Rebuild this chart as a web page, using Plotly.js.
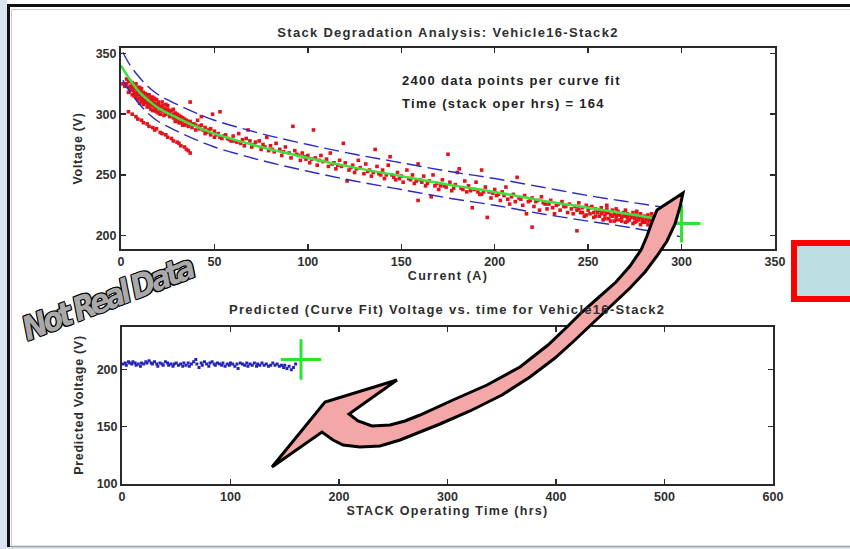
<!DOCTYPE html>
<html>
<head>
<meta charset="utf-8">
<script src="https://cdn.plot.ly/plotly-3.0.1.min.js"></script>
<style>
html,body{margin:0;padding:0;background:#fff;}
#chart{width:850px;height:549px;}
.gtitle, .annotation-text, .xtitle, .x2title { letter-spacing: 1.3px; }
.ytitle, .y2title { letter-spacing: 0.7px; }
.annotation[data-index="3"] .annotation-text { letter-spacing: -4px !important; }
</style>
</head>
<body>
<div id="chart"></div>
<script>
// ---------------- DATA ----------------
const mainTitle = 'Stack Degradation Analysis: Vehicle16-Stack2';
const subTitle = 'Predicted (Curve Fit) Voltage vs. time for Vehicle16-Stack2';
const noteLine1 = '2400 data points per curve fit';
const noteLine2 = 'Time (stack oper hrs) = 164';
const watermark = 'Not Real Data';

const currentTicks = [0, 50, 100, 150, 200, 250, 300, 350];
const voltageTicks = [200, 250, 300, 350];
const timeTicks = [0, 100, 200, 300, 400, 500, 600];
const predTicks = [100, 150, 200];

// curve fit (green)
const fitCurrent = [0, 2, 5, 10, 15, 20, 30, 40, 50, 75, 100, 125, 150, 175, 200, 225, 250, 275, 290, 300];
const fitVoltage = [340, 335, 328, 318, 311, 305, 297, 290, 284, 273, 264, 256, 249, 242, 236, 229, 223, 217, 213, 210];
// confidence bands (blue dashed)
const upperCurrent = [1, 5, 10, 15, 20, 30, 40, 50, 75, 100, 125, 150, 175, 200, 225, 250, 275, 300];
const upperVoltage = [351, 340, 330, 322, 316, 308, 301, 295, 284, 275, 267, 260, 253, 247, 240, 233, 227, 221];
const lowerCurrent = [1, 5, 10, 15, 20, 30, 40, 50, 75, 100, 125, 150, 175, 200, 225, 250, 275, 300];
const lowerVoltage = [328, 318, 308, 300, 294, 286, 279, 273, 262, 253, 245, 238, 231, 225, 218, 212, 206, 199];

// measured points (red), [current, voltage]
const rawEarly = [[1,325],[2,323],[3,325],[4,322],[5,327],[6,320],[6,316],[7,324],[7,318],[8,321],[8,314],[9,319],[9,312],[10,322],[10,316],[10,309],[11,318],[11,311],[12,315],[12,308],[13,317],[13,310],[14,313],[14,306],[15,316],[15,309],[16,311],[16,304],[17,314],[17,307],[18,309],[18,303],[19,312],[19,305],[20,308],[20,301],[21,306],[22,310],[22,303],[23,305],[24,300],[25,307],[25,301],[26,298],[27,303],[28,297],[29,301],[30,295],[31,299],[32,293],[33,297],[34,291],[35,295],[36,290],[37,294],[38,289],[39,292],[40,287],[41,295],[42,288],[43,291],[45,289],[45,284],[47,287],[48,283],[50,286],[50,281],[52,284],[54,280],[37,310],[43,298],[49,300],[53,302],[5,323],[6,326],[7,321],[8,325],[9,316],[11,321],[12,312],[13,314],[14,309],[16,314],[17,310],[18,306],[19,308],[21,303],[23,302],[24,304],[26,301],[28,300],[29,297],[31,296],[33,294],[35,292]];
const rawEarlyDense = [[3,329],[4,327],[4,318],[5,320],[6,323],[7,315],[8,317],[9,322],[10,313],[10,319],[11,314],[12,318],[12,310],[13,312],[14,316],[15,306],[15,312],[16,308],[17,303],[17,311],[18,313],[19,302],[20,306],[20,310],[21,300],[22,307],[23,299],[24,308],[25,304],[26,303],[27,299],[28,304],[29,294],[30,300],[31,293],[32,298],[33,291],[34,296],[36,294],[38,292],[40,291],[42,290],[44,287],[46,285],[48,288],[51,283],[53,281],[55,282],[57,280],[59,278]];
const rawLowBranch = [[4,302],[6,300],[8,298],[9,296],[11,295],[12,293],[14,292],[15,290],[17,289],[18,287],[19,288],[21,285],[22,284],[24,283],[25,281],[27,280],[28,278],[30,277],[31,276],[32,274],[34,273],[35,271],[36,270],[37,268]];
const rawMid = [[56,283],[58,279],[60,282],[62,277],[63,284],[65,279],[66,274],[68,287],[69,278],[70,273],[72,277],[74,278],[75,271],[76,275],[78,281],[79,270],[80,274],[82,269],[83,276],[85,271],[86,266],[88,273],[90,268],[91,264],[92,290],[93,270],[95,266],[96,262],[97,268],[99,263],[100,266],[101,260],[103,287],[104,264],[105,258],[107,266],[108,261],[110,263],[111,257],[112,268],[114,260],[115,255],[117,262],[118,257],[119,276],[120,260],[121,245],[122,254],[124,258],[125,252],[127,262],[128,256],[130,251],[131,259],[133,254],[134,249],[136,271],[137,257],[138,251],[140,254],[141,247],[143,258],[144,265],[145,250],[147,246],[148,252],[150,249],[151,244],[153,254],[154,247],[156,250],[157,243],[159,259],[159,229],[160,246],[162,249],[163,241],[165,245],[166,232],[167,250],[169,243],[170,238],[172,246],[173,241],[175,267],[176,244],[177,237],[179,242],[180,252],[181,255],[182,239],[184,245],[185,236],[186,241],[188,223],[189,238],[190,244],[192,234],[193,254],[193,234],[195,240],[196,215],[197,236],[198,231],[200,238],[201,233],[203,229],[204,236],[206,240],[207,230],[208,226],[210,234],[211,228],[212,248],[213,231],[215,225],[216,233],[217,218],[218,228],[220,231],[220,207],[221,224],[223,229],[224,221],[225,232],[227,226],[228,222],[230,229],[231,223],[232,218],[234,226],[235,221],[236,228],[238,224],[239,219]];
const rawMidOnFit = [[60,278],[64,276],[67,280],[71,275],[77,273],[81,271],[87,269],[94,267],[98,265],[102,263],[106,262],[113,259],[116,258],[123,256],[126,255],[132,253],[135,252],[139,250],[142,250],[146,248],[149,247],[155,246],[158,245],[161,244],[164,243],[168,241],[171,241],[174,240],[178,239],[183,238],[187,237],[191,236],[194,236],[199,235],[202,234],[205,233],[209,232],[214,230],[219,229],[222,228],[226,227],[229,226],[233,225],[237,224]];
const rawHigh = [[240,226],[241,222],[242,218],[243,224],[244,204],[244,221],[245,227],[246,219],[247,223],[248,216],[249,225],[250,221],[251,218],[252,224],[253,215],[254,222],[255,219],[256,216],[257,223],[258,213],[258,220],[259,217],[260,222],[261,214],[261,219],[262,217],[263,221],[264,212],[264,218],[265,216],[266,220],[267,213],[267,217],[268,215],[269,219],[270,211],[270,216],[271,218],[272,213],[272,217],[273,215],[274,219],[274,210],[275,214],[276,217],[276,212],[277,215],[278,218],[278,209],[279,213],[280,216],[280,211],[281,214],[282,217],[282,209],[283,212],[284,215],[285,210],[285,213],[286,208],[287,212],[288,210],[289,213],[290,209],[291,211]];
const rawHighDense = [[245,222],[247,219],[249,217],[251,223],[253,219],[254,216],[256,221],[257,218],[259,214],[260,219],[262,212],[263,216],[265,213],[266,217],[268,212],[269,216],[271,212],[271,215],[273,217],[275,211],[275,216],[277,213],[278,215],[279,211],[281,212],[283,214],[284,210],[286,211],[287,214],[288,208],[289,211],[290,212],[292,210],[293,208],[260,225],[265,222],[270,221],[276,220],[284,218],[288,216]];

const currentMarkI = [300];
const currentMarkV = [210];

// predicted voltage vs time (blue), [hours, volts]
const predicted = [[1,205],[3,206],[4,204],[6,207],[7,206],[9,205],[10,207],[12,206],[13,204],[15,205],[17,203],[18,206],[20,205],[22,207],[23,206],[25,208],[27,206],[28,205],[30,207],[32,205],[33,203],[35,206],[37,205],[38,204],[40,207],[42,206],[43,204],[45,205],[47,203],[48,205],[50,206],[52,204],[54,205],[56,203],[57,206],[59,204],[61,206],[62,203],[64,205],[66,207],[68,209],[69,205],[71,202],[73,206],[74,204],[76,207],[78,205],[80,203],[81,206],[83,207],[85,205],[86,204],[88,206],[90,205],[92,204],[93,206],[95,203],[97,205],[99,204],[100,206],[102,205],[104,203],[106,205],[107,201],[109,206],[111,205],[113,204],[115,206],[116,203],[118,205],[120,204],[122,206],[124,203],[125,205],[127,204],[129,206],[131,204],[133,205],[135,203],[137,204],[139,206],[141,204],[143,205],[145,203],[147,204],[149,202],[150,204],[152,201],[154,203],[156,200],[158,202],[160,205]];
const predMarkT = [165];
const predMarkV = [209];

// ---------------- DRAWING ----------------
const W = 850, H = 549;
const FONT = '"Liberation Sans", Arial, Helvetica, sans-serif';
const TXT = '#2e2e2e';
const px = x => x / W;
const py = y => 1 - y / H;

const allRaw = rawEarly.concat(rawEarlyDense, rawLowBranch, rawMid, rawMidOnFit, rawHigh, rawHighDense);

const traces = [
  {x: allRaw.map(p => p[0]), y: allRaw.map(p => p[1]), mode: 'markers', type: 'scatter',
   marker: {color: '#e3121b', size: 3.6, symbol: 'square'}, xaxis: 'x', yaxis: 'y', hoverinfo: 'skip'},
  {x: upperCurrent, y: upperVoltage, mode: 'lines', type: 'scatter', line: {color: '#2b2bc0', width: 1.4, dash: '15px,6px', shape: 'spline'}, xaxis: 'x', yaxis: 'y'},
  {x: lowerCurrent, y: lowerVoltage, mode: 'lines', type: 'scatter', line: {color: '#2b2bc0', width: 1.4, dash: '15px,6px', shape: 'spline'}, xaxis: 'x', yaxis: 'y'},
  {x: fitCurrent, y: fitVoltage, mode: 'lines', type: 'scatter', line: {color: '#3fe03f', width: 2.5, shape: 'spline'}, xaxis: 'x', yaxis: 'y'},
  {x: currentMarkI, y: currentMarkV, mode: 'markers', type: 'scatter',
   marker: {symbol: 'cross-thin-open', size: 27, color: '#2fe22f', line: {color: '#2fe22f', width: 3}}, xaxis: 'x', yaxis: 'y'},
  {x: predicted.map(p => p[0]), y: predicted.map(p => p[1]), mode: 'markers', type: 'scatter',
   marker: {color: '#2424b8', size: 3, symbol: 'square'}, xaxis: 'x2', yaxis: 'y2'},
  {x: predMarkT, y: predMarkV, mode: 'markers', type: 'scatter',
   marker: {symbol: 'cross-thin-open', size: 29, color: '#2fe22f', line: {color: '#2fe22f', width: 3}}, xaxis: 'x2', yaxis: 'y2'}
];

const tickFont = {family: FONT, size: 12.5, color: TXT, weight: 700};
const titleFont = {family: FONT, size: 12.5, color: TXT, weight: 700};
const axisBase = {showgrid: false, zeroline: false, showline: true, linecolor: '#2a2a2a', linewidth: 2,
  mirror: 'ticks', ticks: 'inside', ticklen: 5, tickwidth: 1.5, tickcolor: '#2a2a2a', tickfont: tickFont, fixedrange: true};

// decorative curved arrow outline (pixel coordinates of the slide)
const arrowOutline = [[272,467],[325,402],[397,380],[349,414],[358,421],[372,426],[390,425],[405,421],[420,415],[453,400],[487,385],[520,367],[548,345],[568,326],[582,312],[598,298],[616,282],[630,266],[641,250],[647,236],[652,222],[657,210],[683,193],[680,207],[675,224],[667,241],[657,256],[645,272],[630,288],[612,305],[594,322],[575,340],[555,358],[530,377],[502,395],[470,411],[440,424],[420,432],[400,440],[380,446],[360,447],[343,445],[333,440],[322,432]];
const arrowPath = arrowOutline.map((p, i) => (i ? 'L' : 'M') + px(p[0]).toFixed(5) + ',' + py(p[1]).toFixed(5)).join(' ') + ' Z';

const shapes = [
  {type: 'rect', xref: 'paper', yref: 'paper', x0: 0, x1: px(7), y0: 0, y1: 1, fillcolor: '#dbe5f0', line: {width: 0}, layer: 'below'},
  {type: 'rect', xref: 'paper', yref: 'paper', x0: 0, x1: 1, y0: 0, y1: py(547), fillcolor: '#dbe5f0', line: {width: 0}, layer: 'below'},
  {type: 'line', xref: 'paper', yref: 'paper', x0: px(7), x1: 1, y0: py(5.5), y1: py(5.5), line: {color: '#111', width: 3}},
  {type: 'line', xref: 'paper', yref: 'paper', x0: px(8.5), x1: px(8.5), y0: py(4), y1: py(547), line: {color: '#111', width: 3}},
  {type: 'line', xref: 'paper', yref: 'paper', x0: px(11.5), x1: 1, y0: py(9.5), y1: py(9.5), line: {color: '#c8c8c8', width: 1}},
  {type: 'line', xref: 'paper', yref: 'paper', x0: px(11.5), x1: px(11.5), y0: py(9.5), y1: py(546), line: {color: '#c8c8c8', width: 1}},
  {type: 'line', xref: 'paper', yref: 'paper', x0: px(10), x1: 1, y0: py(546.5), y1: py(546.5), line: {color: '#9aa4ad', width: 1.5}},
  {type: 'rect', xref: 'paper', yref: 'paper', x0: px(794), x1: px(856), y0: py(243), y1: py(299), fillcolor: '#bddfe2', line: {color: '#ff0000', width: 6}, layer: 'above'},
  {type: 'path', xref: 'paper', yref: 'paper', path: arrowPath, fillcolor: '#f3a7a7', line: {color: '#000', width: 3}, layer: 'above'}
];

const annotations = [
  {xref: 'paper', yref: 'paper', x: px(400), y: py(80), xanchor: 'left', yanchor: 'middle', showarrow: false, text: noteLine1,
   font: {family: FONT, size: 13, color: '#222', weight: 700}},
  {xref: 'paper', yref: 'paper', x: px(400), y: py(103), xanchor: 'left', yanchor: 'middle', showarrow: false, text: noteLine2,
   font: {family: FONT, size: 13, color: '#222', weight: 700}},
  {xref: 'paper', yref: 'paper', x: px(447), y: py(309), xanchor: 'center', yanchor: 'middle', showarrow: false, text: subTitle,
   font: {family: FONT, size: 13, color: TXT, weight: 700}},
  {xref: 'paper', yref: 'paper', x: px(106), y: py(298), xanchor: 'center', yanchor: 'middle', showarrow: false, text: watermark, textangle: -21,
   font: {family: '"Liberation Sans Narrow", "DejaVu Sans Condensed", "Arial Narrow", sans-serif', size: 33, color: '#a9a9a9', weight: 700, style: 'italic',
          shadow: '-1px -1px 0 #000, 1px -1px 0 #000, -1px 1px 0 #000, 1px 1px 0 #000, 0 0 1px #000'}}
];

const layout = {
  width: W, height: H, margin: {l: 0, r: 0, t: 0, b: 0}, paper_bgcolor: '#ffffff', plot_bgcolor: '#ffffff', showlegend: false,
  title: {text: mainTitle, x: px(448), xref: 'paper', xanchor: 'center', y: py(32), yref: 'paper', yanchor: 'middle',
          font: {family: FONT, size: 13, color: TXT, weight: 700}},
  xaxis: Object.assign({}, axisBase, {domain: [px(121), px(775)], range: [0, 350], tickvals: currentTicks, anchor: 'y',
          title: {text: 'Current (A)', font: titleFont, standoff: 2}}),
  yaxis: Object.assign({}, axisBase, {domain: [py(249), py(48)], range: [189, 354.5], tickvals: voltageTicks, anchor: 'x',
          title: {text: 'Voltage (V)', font: titleFont, standoff: 10}}),
  xaxis2: Object.assign({}, axisBase, {domain: [px(122), px(773)], range: [0, 600], tickvals: timeTicks, anchor: 'y2',
          title: {text: 'STACK Operating Time (hrs)', font: titleFont, standoff: 0}}),
  yaxis2: Object.assign({}, axisBase, {domain: [py(483.5), py(326.5)], range: [100, 238], tickvals: predTicks, anchor: 'x2',
          title: {text: 'Predicted Voltage (V)', font: titleFont, standoff: 10}}),
  shapes: shapes,
  annotations: annotations
};

Plotly.newPlot('chart', traces, layout, {staticPlot: true, displayModeBar: false});
</script>
</body>
</html>
